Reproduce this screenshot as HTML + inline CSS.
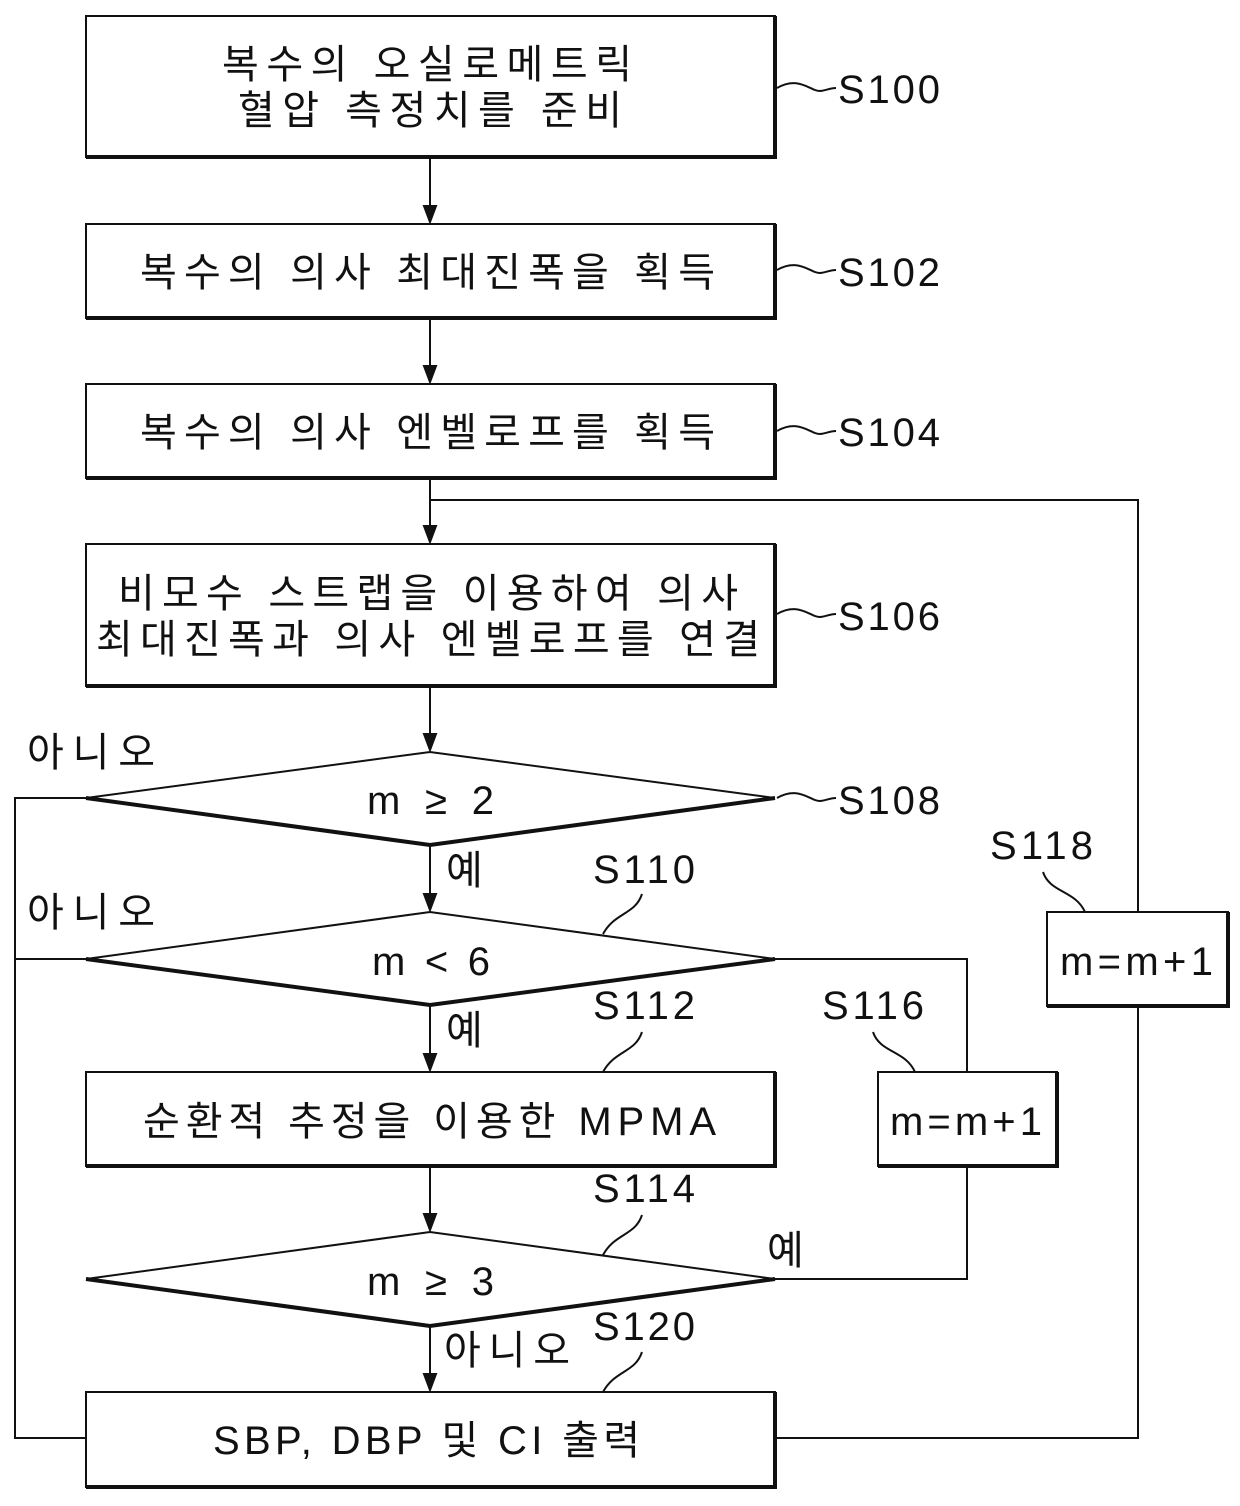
<!DOCTYPE html>
<html><head><meta charset="utf-8"><style>
html,body{margin:0;padding:0;background:#fff;}
svg{display:block;}
text{font-family:"Liberation Sans","Noto Sans CJK KR",sans-serif;fill:#111;}
</style></head><body>
<svg width="1240" height="1506" viewBox="0 0 1240 1506" xmlns="http://www.w3.org/2000/svg">
<defs><marker id="a" markerWidth="12" markerHeight="16" refX="6" refY="16" orient="auto-start-reverse" markerUnits="userSpaceOnUse"><path d="M0,0 L12,0 L6,16 Z" fill="#111" transform="rotate(0)"/></marker></defs>
<g fill="none" stroke="#111" stroke-width="2">
<!-- boxes -->
<rect x="86" y="16" width="689" height="141"/>
<path d="M86,157 H775 V16" stroke-width="4"/>
<rect x="86" y="224" width="689" height="94"/>
<path d="M86,318 H775 V224" stroke-width="4"/>
<rect x="86" y="384" width="689" height="94"/>
<path d="M86,478 H775 V384" stroke-width="4"/>
<rect x="86" y="544" width="689" height="142"/>
<path d="M86,686 H775 V544" stroke-width="4"/>
<rect x="86" y="1072" width="689" height="94"/>
<path d="M86,1166 H775 V1072" stroke-width="4"/>
<rect x="86" y="1392" width="689" height="95"/>
<path d="M86,1487 H775 V1392" stroke-width="4"/>
<rect x="878" y="1072" width="179" height="94"/>
<path d="M878,1166 H1057 V1072" stroke-width="4"/>
<rect x="1047" y="912" width="181" height="94"/>
<path d="M1047,1006 H1228 V912" stroke-width="4"/>
<!-- diamonds -->
<path d="M86,798 L430,752 L775,798"/>
<path d="M86,798 L430,845 L775,798" stroke-width="4"/>
<path d="M86,959 L430,912 L775,959"/>
<path d="M86,959 L430,1005 L775,959" stroke-width="4"/>
<path d="M86,1279 L430,1232 L775,1279"/>
<path d="M86,1279 L430,1326 L775,1279" stroke-width="4"/>
<!-- arrows vertical -->
<path d="M430,157 V208"/><path d="M424,206 L436,206 L430,222 Z" fill="#111"/>
<path d="M430,318 V368"/><path d="M424,366 L436,366 L430,382 Z" fill="#111"/>
<path d="M430,478 V528"/><path d="M424,526 L436,526 L430,542 Z" fill="#111"/>
<path d="M430,686 V736"/><path d="M424,734 L436,734 L430,750 Z" fill="#111"/>
<path d="M430,845 V896"/><path d="M424,894 L436,894 L430,910 Z" fill="#111"/>
<path d="M430,1005 V1056"/><path d="M424,1054 L436,1054 L430,1070 Z" fill="#111"/>
<path d="M430,1166 V1216"/><path d="M424,1214 L436,1214 L430,1230 Z" fill="#111"/>
<path d="M430,1326 V1376"/><path d="M424,1374 L436,1374 L430,1390 Z" fill="#111"/>
<!-- loops -->
<path d="M430,500 H1138 V912"/>
<path d="M1138,1006 V1438 H775"/>
<path d="M775,959 H967 V1072"/>
<path d="M967,1166 V1279 H775"/>
<path d="M86,798 H15 V1438 H86"/>
<path d="M86,959 H15"/>
<!-- leaders -->
<path d="M777,88 C795,78 805,86 815,90 C822,93 828,88 836,88"/>
<path d="M777,270 C795,260 805,268 815,272 C822,275 828,270 836,270"/>
<path d="M777,431 C795,421 805,429 815,433 C822,436 828,431 836,431"/>
<path d="M777,614 C795,604 805,612 815,616 C822,619 828,614 836,614"/>
<path d="M777,798 C795,788 805,796 815,800 C822,803 828,798 836,798"/>
<path d="M603,934 C615,912 635,915 642,894"/>
<path d="M603,1072 C615,1050 635,1053 642,1032"/>
<path d="M915,1072 C905,1050 880,1053 873,1032"/>
<path d="M603,1255 C615,1233 635,1236 642,1215"/>
<path d="M603,1392 C615,1370 635,1373 642,1352"/>
<path d="M1085,912 C1075,890 1050,893 1043,872"/>
</g>
<g font-size="40">
<text x="222" y="78" textLength="410" lengthAdjust="spacing">복수의 오실로메트릭</text>
<text x="238" y="124" textLength="384" lengthAdjust="spacing">혈압 측정치를 준비</text>
<text x="140" y="286" textLength="575" lengthAdjust="spacing">복수의 의사 최대진폭을 획득</text>
<text x="140" y="446" textLength="575" lengthAdjust="spacing">복수의 의사 엔벨로프를 획득</text>
<text x="118" y="607" textLength="620" lengthAdjust="spacing">비모수 스트랩을 이용하여 의사</text>
<text x="96" y="653" textLength="664" lengthAdjust="spacing">최대진폭과 의사 엔벨로프를 연결</text>
<text x="367" y="814" textLength="127" lengthAdjust="spacing">m ≥ 2</text>
<text x="372" y="975" textLength="118" lengthAdjust="spacing">m &lt; 6</text>
<text x="143" y="1135" textLength="573" lengthAdjust="spacing">순환적 추정을 이용한 MPMA</text>
<text x="367" y="1295" textLength="127" lengthAdjust="spacing">m ≥ 3</text>
<text x="213" y="1454" textLength="427" lengthAdjust="spacing">SBP, DBP 및 CI 출력</text>
<text x="890" y="1135" textLength="152" lengthAdjust="spacing">m=m+1</text>
<text x="1060" y="975" textLength="153" lengthAdjust="spacing">m=m+1</text>
<text x="838" y="103" textLength="102" lengthAdjust="spacing">S100</text>
<text x="838" y="286" textLength="102" lengthAdjust="spacing">S102</text>
<text x="838" y="446" textLength="102" lengthAdjust="spacing">S104</text>
<text x="838" y="630" textLength="102" lengthAdjust="spacing">S106</text>
<text x="838" y="814" textLength="102" lengthAdjust="spacing">S108</text>
<text x="593" y="883" textLength="102" lengthAdjust="spacing">S110</text>
<text x="593" y="1019" textLength="102" lengthAdjust="spacing">S112</text>
<text x="822" y="1019" textLength="102" lengthAdjust="spacing">S116</text>
<text x="593" y="1202" textLength="102" lengthAdjust="spacing">S114</text>
<text x="593" y="1340" textLength="102" lengthAdjust="spacing">S120</text>
<text x="990" y="859" textLength="103" lengthAdjust="spacing">S118</text>
<text x="27" y="766" textLength="128" lengthAdjust="spacing">아니오</text>
<text x="27" y="926" textLength="128" lengthAdjust="spacing">아니오</text>
<text x="446" y="884">예</text>
<text x="446" y="1044">예</text>
<text x="767" y="1264">예</text>
<text x="444" y="1364" textLength="126" lengthAdjust="spacing">아니오</text>
</g>
</svg>
</body></html>
